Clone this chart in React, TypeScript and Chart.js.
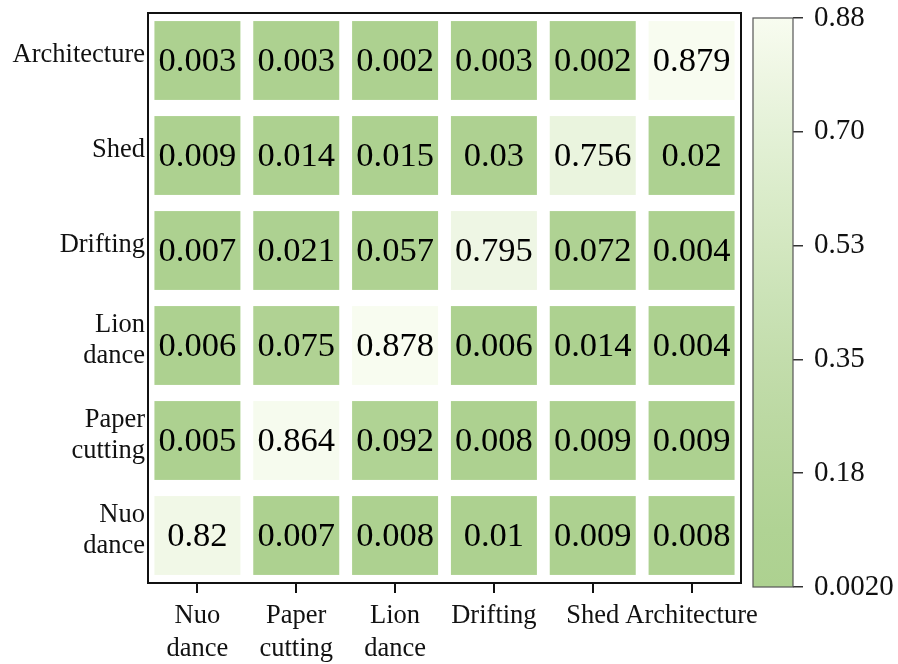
import React, { useEffect, useRef } from 'react';
import { Chart, registerables } from 'chart.js';

Chart.register(...registerables);

// ---- data ----
const xLabels: string[][] = [['Nuo', 'dance'], ['Paper', 'cutting'], ['Lion', 'dance'], ['Drifting'], ['Shed'], ['Architecture']];
const yLabels: string[][] = [['Architecture'], ['Shed'], ['Drifting'], ['Lion', 'dance'], ['Paper', 'cutting'], ['Nuo', 'dance']];

const rowArchitecture = [0.003, 0.003, 0.002, 0.003, 0.002, 0.879];
const rowShed = [0.009, 0.014, 0.015, 0.03, 0.756, 0.02];
const rowDrifting = [0.007, 0.021, 0.057, 0.795, 0.072, 0.004];
const rowLionDance = [0.006, 0.075, 0.878, 0.006, 0.014, 0.004];
const rowPaperCutting = [0.005, 0.864, 0.092, 0.008, 0.009, 0.009];
const rowNuoDance = [0.82, 0.007, 0.008, 0.01, 0.009, 0.008];
const matrixRows = [rowArchitecture, rowShed, rowDrifting, rowLionDance, rowPaperCutting, rowNuoDance];

const colorbarMin = 0.002;
const colorbarMax = 0.88;
const colorbarTickValues = [0.002, 0.1776, 0.3532, 0.5288, 0.7044, 0.88];
const colorbarTickLabels = ['0.0020', '0.18', '0.35', '0.53', '0.70', '0.88'];

// ---- style ----
const FONT = "'Liberation Serif', 'Times New Roman', serif";
const LOW = [173, 209, 144];
const HIGH = [248, 252, 240];
const GAMMA = 1.35;

function colorFor(v: number): string {
  let t = (v - colorbarMin) / (colorbarMax - colorbarMin);
  t = Math.pow(Math.max(0, Math.min(1, t)), GAMMA);
  const c = LOW.map((l, i) => Math.round(l + (HIGH[i] - l) * t));
  return `rgb(${c[0]},${c[1]},${c[2]})`;
}

const cellPlugin = {
  id: 'cells',
  beforeDatasetsDraw(chart: any) {
    const { ctx } = chart;
    const x = chart.scales.x;
    const y = chart.scales.y;
    const meta = chart.getDatasetMeta(0);
    const cw = Math.abs(x.getPixelForValue(1) - x.getPixelForValue(0)) * 0.87;
    const ch = Math.abs(y.getPixelForValue(1) - y.getPixelForValue(0)) * 0.83;
    const data = chart.data.datasets[0].data;
    ctx.save();
    meta.data.forEach((el: any, i: number) => {
      const raw = data[i];
      ctx.fillStyle = colorFor(raw.v);
      ctx.fillRect(el.x - cw / 2, el.y - ch / 2, cw, ch);
      ctx.fillStyle = '#000';
      ctx.font = `34.5px ${FONT}`;
      ctx.textAlign = 'center';
      ctx.textBaseline = 'middle';
      ctx.fillText(String(raw.v), el.x, el.y + 1);
    });
    ctx.restore();
  },
  afterDraw(chart: any) {
    const { ctx, chartArea } = chart;
    ctx.save();
    ctx.strokeStyle = '#111';
    ctx.lineWidth = 2;
    ctx.strokeRect(chartArea.left, chartArea.top, chartArea.right - chartArea.left, chartArea.bottom - chartArea.top);
    ctx.restore();
  },
};

const colorbarPlugin = {
  id: 'colorbar',
  beforeDraw(chart: any) {
    const { ctx, chartArea } = chart;
    const g = ctx.createLinearGradient(0, chartArea.bottom, 0, chartArea.top);
    for (let k = 0; k <= 10; k++) {
      const v = colorbarMin + (colorbarMax - colorbarMin) * (k / 10);
      g.addColorStop(k / 10, colorFor(v));
    }
    ctx.save();
    ctx.fillStyle = g;
    ctx.fillRect(chartArea.left, chartArea.top, chartArea.right - chartArea.left, chartArea.bottom - chartArea.top);
    ctx.restore();
  },
  afterDraw(chart: any) {
    const { ctx, chartArea } = chart;
    ctx.save();
    ctx.strokeStyle = '#555';
    ctx.lineWidth = 1.2;
    ctx.strokeRect(chartArea.left, chartArea.top, chartArea.right - chartArea.left, chartArea.bottom - chartArea.top);
    ctx.restore();
  },
};

export default function App() {
  const mainRef = useRef<HTMLCanvasElement>(null);
  const cbRef = useRef<HTMLCanvasElement>(null);

  useEffect(() => {
    const points: any[] = [];
    matrixRows.forEach((row, r) => row.forEach((v, c) => points.push({ x: c, y: r, v })));

    const main = new Chart(mainRef.current as HTMLCanvasElement, {
      type: 'scatter',
      data: { datasets: [{ data: points, pointRadius: 0, pointHoverRadius: 0 }] },
      options: {
        responsive: false,
        animation: false,
        events: [],
        layout: { padding: { left: 0, top: 13, right: 157, bottom: 0 } },
        plugins: { legend: { display: false }, tooltip: { enabled: false } },
        scales: {
          x: {
            type: 'linear',
            min: -0.5,
            max: 5.5,
            afterBuildTicks: (s: any) => { s.ticks = xLabels.map((_, i) => ({ value: i })); },
            afterFit: (s: any) => { s.height = 81; s.paddingLeft = 0; s.paddingRight = 0; },
            ticks: {
              autoSkip: false,
              maxRotation: 0,
              minRotation: 0,
              padding: 6,
              color: '#111',
              font: { family: FONT, size: 26.5, lineHeight: 1.25 },
              callback: (v: any) => xLabels[Math.round(v)] ?? '',
            },
            grid: { drawOnChartArea: false, drawTicks: true, tickLength: 10, color: '#111', lineWidth: 2 },
            border: { display: false },
          },
          y: {
            type: 'linear',
            reverse: true,
            min: -0.5,
            max: 5.5,
            afterBuildTicks: (s: any) => { s.ticks = yLabels.map((_, i) => ({ value: i })); },
            afterFit: (s: any) => { s.width = 148; s.paddingTop = 0; s.paddingBottom = 0; },
            ticks: {
              autoSkip: false,
              padding: 3,
              labelOffset: -5,
              color: '#111',
              font: { family: FONT, size: 26.5, lineHeight: 1.17 },
              callback: (v: any) => yLabels[Math.round(v)] ?? '',
            },
            grid: { drawOnChartArea: false, drawTicks: false },
            border: { display: false },
          },
        },
      },
      plugins: [cellPlugin],
    } as any);

    const cb = new Chart(cbRef.current as HTMLCanvasElement, {
      type: 'scatter',
      data: { datasets: [{ data: [] }] },
      options: {
        responsive: false,
        animation: false,
        events: [],
        layout: { padding: { left: 753, top: 18, right: 0, bottom: 77 } },
        plugins: { legend: { display: false }, tooltip: { enabled: false } },
        scales: {
          x: { display: false },
          y: {
            type: 'linear',
            position: 'right',
            min: colorbarMin,
            max: colorbarMax,
            afterBuildTicks: (s: any) => { s.ticks = colorbarTickValues.map((v) => ({ value: v })); },
            afterFit: (s: any) => { s.width = 105; s.paddingTop = 0; s.paddingBottom = 0; },
            ticks: {
              autoSkip: false,
              padding: 11,
              color: '#111',
              font: { family: FONT, size: 29 },
              callback: (_v: any, i: number) => colorbarTickLabels[i],
            },
            grid: { drawOnChartArea: false, drawTicks: true, tickLength: 10, color: '#333', lineWidth: 1.5 },
            border: { display: false },
          },
        },
      },
      plugins: [colorbarPlugin],
    } as any);

    return () => {
      main.destroy();
      cb.destroy();
    };
  }, []);

  return (
    <div style={{ position: 'fixed', left: 0, top: 0, width: 898, height: 664, background: '#fff' }}>
      <canvas ref={mainRef} width={898} height={664} style={{ position: 'absolute', left: 0, top: 0 }} />
      <canvas ref={cbRef} width={898} height={664} style={{ position: 'absolute', left: 0, top: 0 }} />
    </div>
  );
}
